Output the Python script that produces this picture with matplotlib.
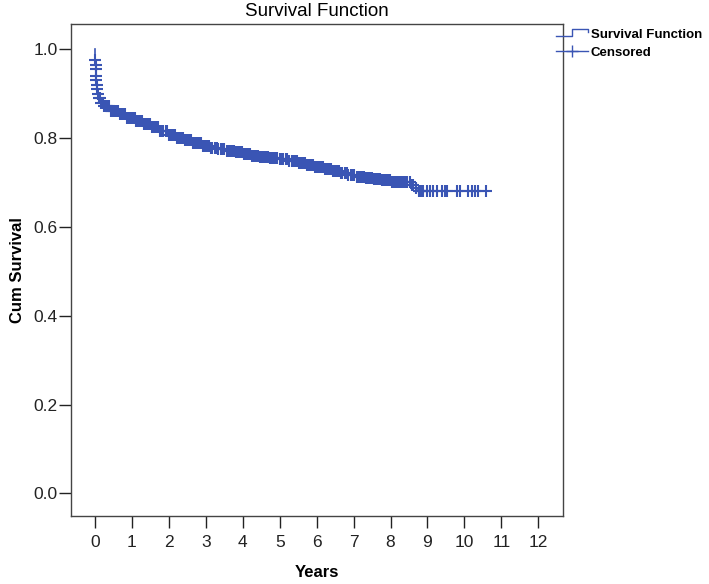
import matplotlib
matplotlib.use("Agg")
import matplotlib.pyplot as plt
import numpy as np
from matplotlib.lines import Line2D
from matplotlib.legend_handler import HandlerBase

plt.rcParams["font.family"] = ["Liberation Sans", "DejaVu Sans"]

BLUE = "#3a55b4"

# Kaplan-Meier steps (time in years, survival after the step)
km_time = [0.0, 0.005, 0.01, 0.015, 0.02, 0.03, 0.04, 0.05, 0.06, 0.08, 0.10,
           0.15, 0.25, 0.40, 0.63, 0.85, 1.08, 1.30, 1.53, 1.75, 1.98, 2.20,
           2.44, 2.65, 2.89, 3.10, 3.34, 3.55, 3.79, 4.00, 4.24, 4.45, 4.69,
           4.95, 5.23, 5.50, 5.73, 5.95, 6.18, 6.40, 6.63, 6.85, 7.08, 7.30,
           7.53, 7.75, 7.99, 8.55, 8.68, 8.75, 10.59]
km_surv = [1.0, 0.99, 0.975, 0.965, 0.955, 0.94, 0.93, 0.92, 0.91, 0.90, 0.89,
           0.88, 0.872, 0.862, 0.854, 0.846, 0.838, 0.831, 0.824, 0.816, 0.806,
           0.800, 0.796, 0.790, 0.783, 0.778, 0.775, 0.771, 0.768, 0.764, 0.760,
           0.758, 0.756, 0.752, 0.748, 0.743, 0.739, 0.735, 0.731, 0.726, 0.721,
           0.716, 0.713, 0.711, 0.709, 0.705, 0.702, 0.695, 0.688, 0.681, 0.681]

# censored observations (years)
censor_time = [
    0.01, 0.015, 0.02, 0.03, 0.04, 0.05, 0.06, 0.08, 0.10, 0.13, 0.17, 0.21,
    0.25, 0.29, 0.33, 0.38, 0.42, 0.47, 0.52, 0.57, 0.62, 0.67, 0.72, 0.77,
    0.82, 0.87, 0.92, 0.97,
    1.02, 1.07, 1.12, 1.17, 1.23, 1.28, 1.33, 1.38, 1.43, 1.49, 1.54, 1.59,
    1.64, 1.70, 1.75, 1.80, 1.85, 1.91, 1.96,
    2.01, 2.06, 2.12, 2.17, 2.22, 2.28, 2.33, 2.38, 2.44, 2.49, 2.54, 2.60,
    2.65, 2.70, 2.76, 2.81, 2.86, 2.92, 2.97,
    3.02, 3.08, 3.13, 3.18, 3.24, 3.29, 3.34, 3.40, 3.45, 3.50, 3.56, 3.61,
    3.66, 3.72, 3.77, 3.82, 3.88, 3.93, 3.98,
    4.04, 4.09, 4.14, 4.20, 4.25, 4.30, 4.36, 4.41, 4.46, 4.52, 4.57, 4.62,
    4.68, 4.73, 4.78, 4.84, 4.89, 4.94,
    5.00, 5.05, 5.10, 5.16, 5.21, 5.26, 5.32, 5.37, 5.42, 5.48, 5.53, 5.58,
    5.64, 5.69, 5.74, 5.80, 5.85, 5.90, 5.96,
    6.01, 6.06, 6.12, 6.17, 6.22, 6.28, 6.33, 6.38, 6.44, 6.49, 6.54, 6.60,
    6.65, 6.70, 6.76, 6.81, 6.86, 6.92, 6.97,
    7.02, 7.08, 7.13, 7.18, 7.24, 7.29, 7.34, 7.40, 7.45, 7.50, 7.56, 7.61,
    7.66, 7.72, 7.77, 7.82, 7.88, 7.93, 7.98,
    8.04, 8.09, 8.14, 8.20, 8.25, 8.30, 8.36, 8.41, 8.46, 8.52, 8.57, 8.62,
    8.70, 8.76, 8.80, 8.84,
    8.88, 8.99, 9.07, 9.15, 9.26, 9.40, 9.48, 9.53, 9.80, 9.88, 10.10, 10.21,
    10.29, 10.37, 10.59,
]

x_ticks = list(range(0, 13))
y_ticks = [0.0, 0.2, 0.4, 0.6, 0.8, 1.0]


class StepHandler(HandlerBase):
    def create_artists(self, legend, orig_handle, xdescent, ydescent,
                       width, height, fontsize, trans):
        x0, y0 = -xdescent, -ydescent
        xs = [x0, x0 + 0.5 * width, x0 + 0.5 * width, x0 + width, x0 + width]
        ys = [y0 + 0.2 * height, y0 + 0.2 * height, y0 + 0.95 * height,
              y0 + 0.95 * height, y0 + 0.55 * height]
        line = Line2D(xs, ys, color=BLUE, lw=1.0, transform=trans)
        return [line]


fig = plt.figure(figsize=(7.09, 5.84), dpi=100)
ax = fig.add_axes([71 / 709, 1 - 516 / 584, 492 / 709, 492 / 584])

km_time = np.array(km_time)
km_surv = np.array(km_surv)
ct = np.array(censor_time)
idx = np.searchsorted(km_time, ct, side="right") - 1
cy = km_surv[idx]

ax.step(km_time, km_surv, where="post", color=BLUE, lw=1.2)
ax.plot(ct, cy, ls="none", marker="+", ms=8, mew=1.5, color=BLUE)

ax.set_xlim(-0.65, 12.67)
ax.set_ylim(-0.051, 1.057)
ax.set_xticks(x_ticks)
ax.set_yticks(y_ticks)
ax.set_yticklabels([f"{v:.1f}" for v in y_ticks])
ax.tick_params(axis="both", direction="out", length=8.5, width=1.0,
               labelsize=12.5, colors="#222222")
ax.tick_params(axis="x", pad=5)
ax.tick_params(axis="y", pad=1)
for s in ax.spines.values():
    s.set_color("#444444")
    s.set_linewidth(1.0)

ax.set_xlabel("Years", fontsize=12, fontweight="bold", labelpad=11)
ax.set_ylabel("Cum Survival", fontsize=12, fontweight="bold", labelpad=6)
fig.text(317 / 709, 1 - 12 / 584, "Survival Function", ha="center",
         va="center", fontsize=13.5)

h_step = Line2D([], [], color=BLUE)
h_cens = Line2D([], [], color=BLUE, marker="+", ms=9, mew=1.0, lw=1.0)
fig.legend([h_step, h_cens], ["Survival Function", "Censored"],
           handler_map={h_step: StepHandler()},
           loc="upper left", bbox_to_anchor=(555 / 709, 1 - 27 / 584),
           frameon=False, prop={"weight": "bold", "size": 9.5},
           handlelength=2.4, handletextpad=0.2, borderpad=0.1,
           labelspacing=0.45, borderaxespad=0)

fig.savefig("out.png", dpi=100)
